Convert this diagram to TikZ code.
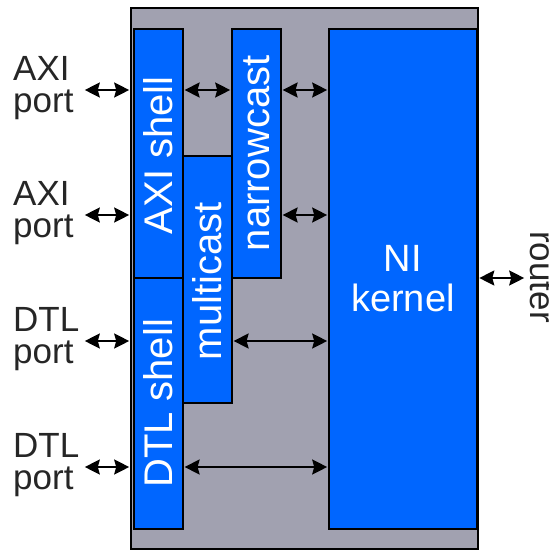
\documentclass[tikz,border=0pt]{standalone}
\usepackage{fontspec}
\setmainfont{Liberation Sans}
\usepackage{xcolor}
\usepackage{tikz}
\usetikzlibrary{positioning,arrows.meta}

\definecolor{niblue}{RGB}{0,102,255}
\definecolor{nigray}{RGB}{161,161,176}

\begin{document}
\begin{tikzpicture}[x=1pt, y=-1pt,
    shellbox/.style={rectangle, draw=black, line width=1.8pt, fill=niblue, inner sep=0pt, anchor=north west},
    vtext/.style={rotate=90, inner sep=0pt, text=white, font=\fontsize{40}{40}\selectfont},
    porttext/.style={inner sep=0pt, align=left, anchor=west, text=black!85, font=\fontsize{35}{32}\selectfont},
    biarrow/.style={{Stealth[length=15pt, width=15pt, inset=2pt]}-{Stealth[length=15pt, width=15pt, inset=2pt]}, line width=2pt, shorten >=0.8pt, shorten <=0.8pt}]

    \useasboundingbox (0,0) rectangle (549,550);

    % network interface frame
    \node [rectangle, draw=black, line width=1.5pt, fill=nigray, minimum width=347pt, minimum height=541pt, inner sep=0pt, anchor=north west] at (130,7) (ni) {};

    \node [shellbox, minimum width=49pt, minimum height=249pt] at (133,28) (axi) {};
    \node [shellbox, minimum width=49pt, minimum height=251pt] at (133,277) (dtl) {};
    \node [shellbox, minimum width=49pt, minimum height=247pt] at (182,155) (multi) {};
    \node [shellbox, minimum width=49pt, minimum height=249pt] at (231,28) (narrow) {};
    \node [shellbox, minimum width=148pt, minimum height=500pt, align=center, text=white, font=\fontsize{38}{40}\selectfont] at (328,28) (kernel) {NI\\kernel};

    \node [vtext] at ([yshift=-2pt]axi.center) (axitext) {AXI shell};
    \node [vtext] at (dtl.center) (dtltext) {DTL shell};
    \node [vtext] at ([yshift=-2pt]multi.center) (multitext) {multicast};
    \node [vtext] at (narrow.center) (narrowtext) {narrowcast};

    % ports
    \coordinate (pa1) at (84,90);
    \coordinate (pa2) at (84,215);
    \coordinate (pd1) at (84,341);
    \coordinate (pd2) at (84,467);
    \coordinate (rt) at (525,278);

    \node [porttext] at (13,88.5) (la1) {AXI\\port};
    \node [porttext] at (13,213.5) (la2) {AXI\\port};
    \node [porttext] at (13,339.5) (ld1) {DTL\\port};
    \node [porttext] at (13,465.5) (ld2) {DTL\\port};
    \node [porttext, rotate=-90, anchor=south] at (530,277) (lrt) {router};

    \draw [biarrow] (pa1) -- (pa1 -| ni.west);
    \draw [biarrow] (pa2) -- (pa2 -| ni.west);
    \draw [biarrow] (pd1) -- (pd1 -| ni.west);
    \draw [biarrow] (pd2) -- (pd2 -| ni.west);
    \draw [biarrow] (rt -| ni.east) -- (rt);

    \draw [biarrow] (axi.east |- pa1) -- (narrow.west |- pa1);
    \draw [biarrow] (narrow.east |- pa1) -- (kernel.west |- pa1);
    \draw [biarrow] (narrow.east |- pa2) -- (kernel.west |- pa2);
    \draw [biarrow] (multi.east |- pd1) -- (kernel.west |- pd1);
    \draw [biarrow] (dtl.east |- pd2) -- (kernel.west |- pd2);
\end{tikzpicture}
\end{document}
